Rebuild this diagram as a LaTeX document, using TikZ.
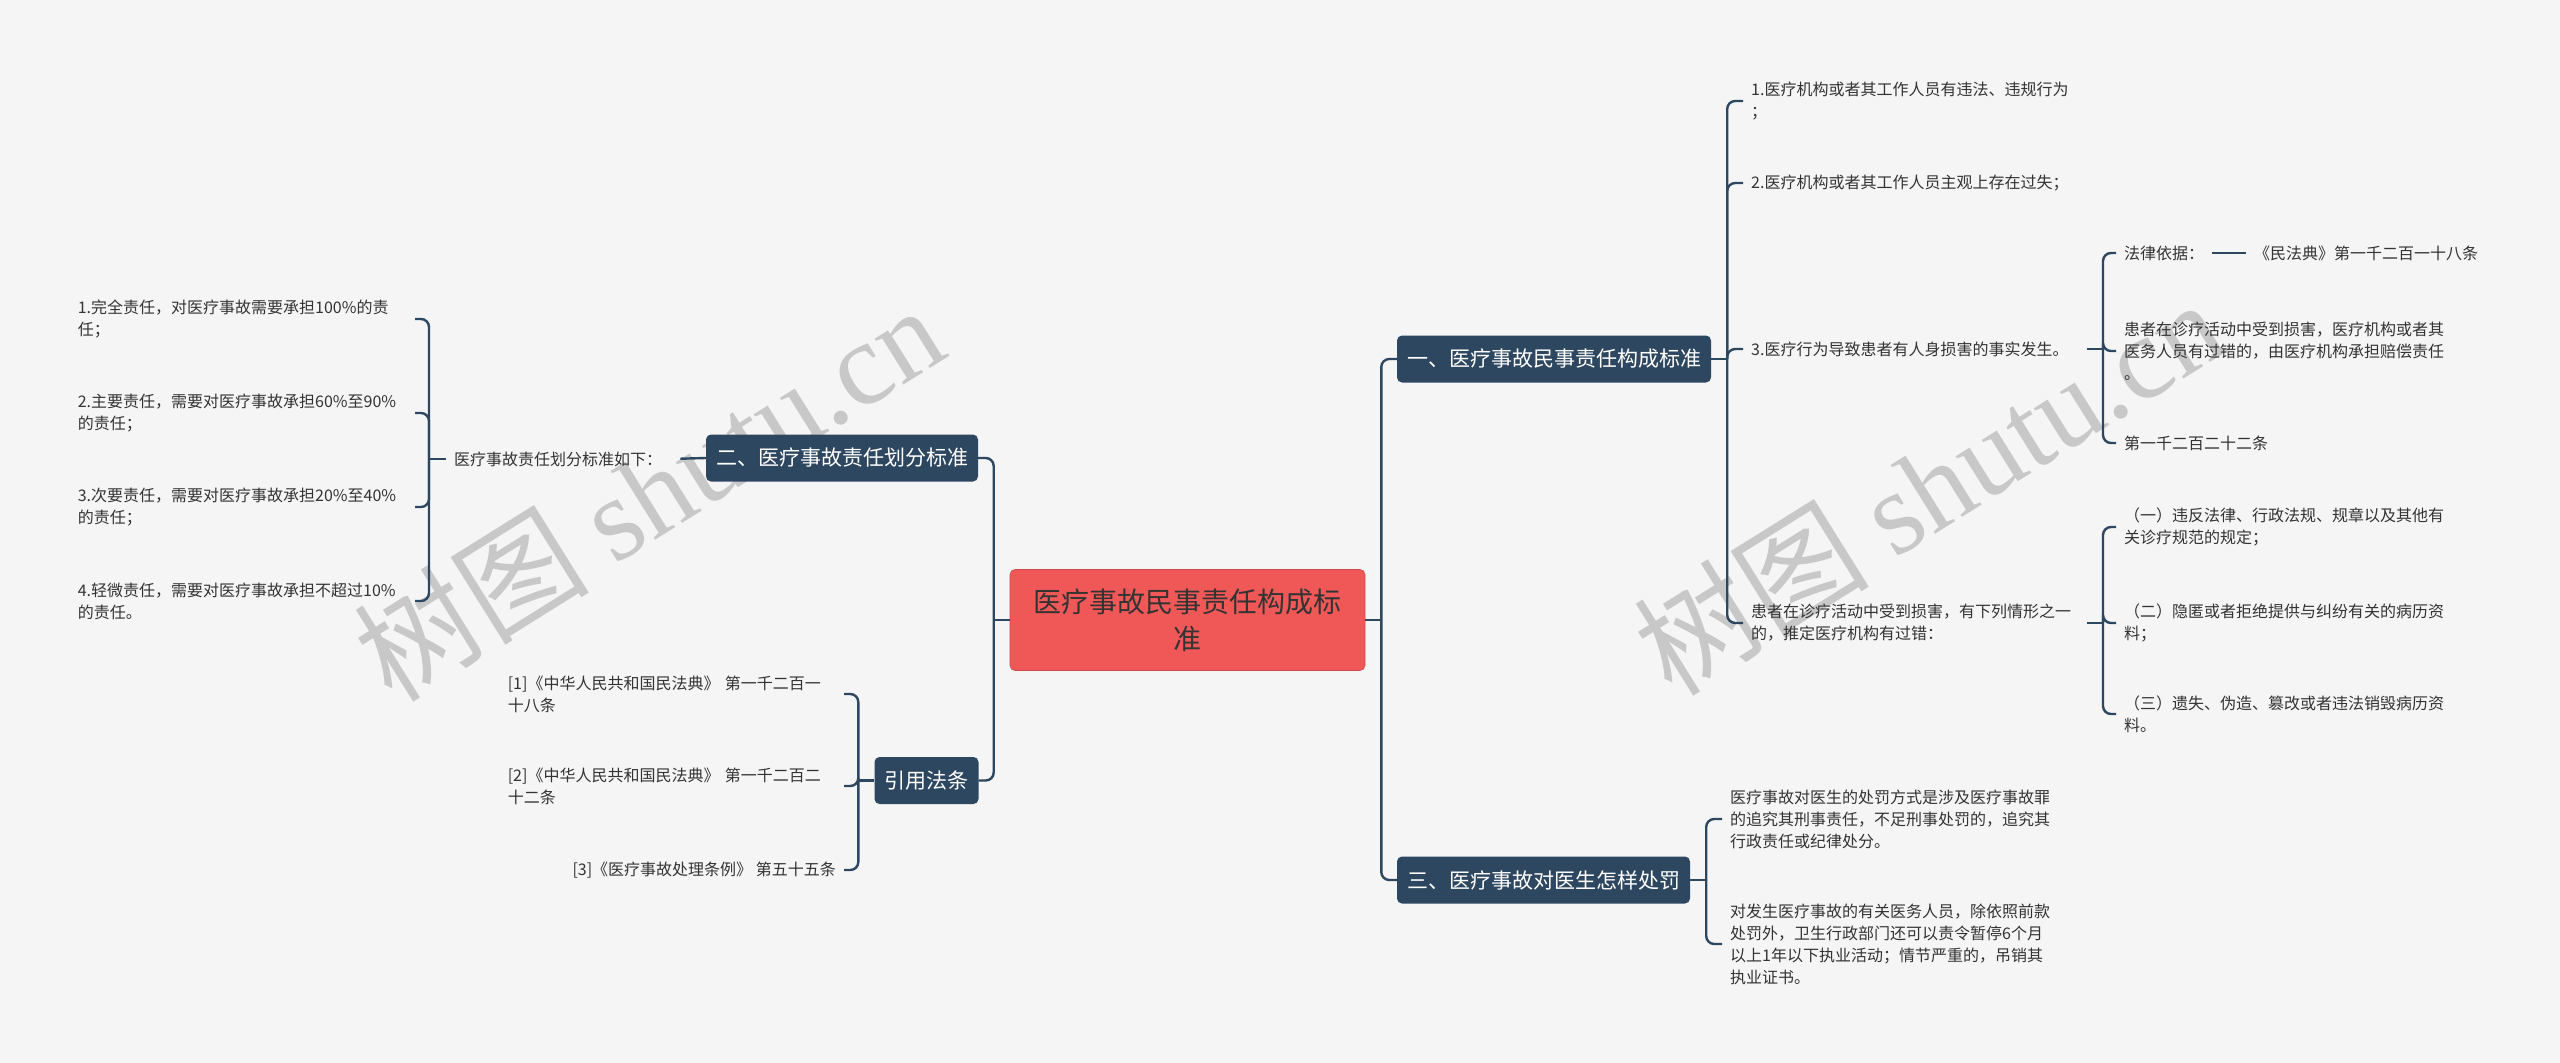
\documentclass[tikz,border=0pt]{standalone}
\usepackage{fontspec}
\setmainfont{Noto Sans CJK SC}
\newfontfamily\wmlatin{Liberation Serif}
\usetikzlibrary{calc}
\definecolor{fond}{HTML}{F5F5F5}
\definecolor{marine}{HTML}{2E4760}
\definecolor{corail}{HTML}{F05858}
\definecolor{encre}{HTML}{333333}
\definecolor{grisfil}{HTML}{BDBDBD}
\tikzset{
    %Define style for the central box
    racine/.style={
           rectangle,
           rounded corners=5pt,
           fill=corail, draw=corail!85!black, line width=0.6pt,
           text=encre,
           font=\fontsize{28}{37}\selectfont,
           align=center,
           minimum width=355pt,
           minimum height=101pt},
    %Define style for the dark boxes
    branche/.style={
           rectangle,
           rounded corners=5pt,
           fill=marine,
           text=white,
           font=\fontsize{21}{26}\selectfont,
           inner xsep=10pt, inner ysep=0pt,
           minimum height=47pt},
    %Define style for plain texts
    feuille/.style={
           font=\fontsize{16}{22}\selectfont,
           text=encre,
           align=left,
           inner xsep=8pt, inner ysep=2pt},
    % Define line styles
    lien/.style={
           draw=marine,
           line width=2.4pt},
    coude/.style={
           lien,
           rounded corners=8pt},
    filigrane/.style={
           text=grisfil,
           opacity=0.8,
           font=\fontsize{118}{118}\selectfont,
           rotate=32}
}
\begin{document}
\begin{tikzpicture}[x=1pt, y=-1pt]
	\fill[fond] (0,0) rectangle (2560,1063);
	\useasboundingbox (0,0) rectangle (2560,1063);
	\node[filigrane] (fil1) at (648,492) {树图 {\wmlatin shutu.cn}};
	\node[filigrane] (fil2) at (1928,486) {树图 {\wmlatin shutu.cn}};
	%
	% noeuds
	%
	\node[racine] (centre) at (1187.5,620) {医疗事故民事责任构成标\\准};
	\node[branche] (b1) at (1554,359) {一、医疗事故民事责任构成标准};
	\node[branche] (b2) at (842,458) {二、医疗事故责任划分标准};
	\node[branche] (b3) at (1543.5,880) {三、医疗事故对医生怎样处罚};
	\node[branche] (b4) at (926.5,780.5) {引用法条};
	% gauche
	\node[feuille, anchor=west] (n21) at (446,459) {医疗事故责任划分标准如下：};
	\node[feuille, anchor=east, text width=329pt] (g1) at (415,319) {1.完全责任，对医疗事故需要承担100\%的责\\任；};
	\node[feuille, anchor=east, text width=329pt] (g2) at (415,413) {2.主要责任，需要对医疗事故承担60\%至90\%\\的责任；};
	\node[feuille, anchor=east, text width=329pt] (g3) at (415,507) {3.次要责任，需要对医疗事故承担20\%至40\%\\的责任；};
	\node[feuille, anchor=east, text width=329pt] (g4) at (415,601) {4.轻微责任，需要对医疗事故承担不超过10\%\\的责任。};
	\node[feuille, anchor=east, text width=328pt] (c1) at (844,694) {[1]《中华人民共和国民法典》 第一千二百一\\十八条};
	\node[feuille, anchor=east, text width=328pt] (c2) at (844,786) {[2]《中华人民共和国民法典》 第一千二百二\\十二条};
	\node[feuille, anchor=east] (c3) at (844,870) {[3]《医疗事故处理条例》 第五十五条};
	% droite
	\node[feuille, anchor=west] (r1) at (1743,101) {1.医疗机构或者其工作人员有违法、违规行为\\；};
	\node[feuille, anchor=west] (r2) at (1743,183) {2.医疗机构或者其工作人员主观上存在过失；};
	\node[feuille, anchor=west] (r3) at (1743,349) {3.医疗行为导致患者有人身损害的事实发生。};
	\node[feuille, anchor=west] (r4) at (1743,623) {患者在诊疗活动中受到损害，有下列情形之一\\的，推定医疗机构有过错：};
	\node[feuille, anchor=west] (s1) at (2116,253) {法律依据：};
	\node[feuille, anchor=west] (s1b) at (2246,253) {《民法典》第一千二百一十八条};
	\node[feuille, anchor=west] (s2) at (2116,351) {患者在诊疗活动中受到损害，医疗机构或者其\\医务人员有过错的，由医疗机构承担赔偿责任\\。};
	\node[feuille, anchor=west] (s3) at (2116,443) {第一千二百二十二条};
	\node[feuille, anchor=west] (t1) at (2116,527) {（一）违反法律、行政法规、规章以及其他有\\关诊疗规范的规定；};
	\node[feuille, anchor=west] (t2) at (2116,623) {（二）隐匿或者拒绝提供与纠纷有关的病历资\\料；};
	\node[feuille, anchor=west] (t3) at (2116,714) {（三）遗失、伪造、篡改或者违法销毁病历资\\料。};
	\node[feuille, anchor=west] (u1) at (1722,819) {医疗事故对医生的处罚方式是涉及医疗事故罪\\的追究其刑事责任，不足刑事处罚的，追究其\\行政责任或纪律处分。};
	\node[feuille, anchor=west] (u2) at (1722,944) {对发生医疗事故的有关医务人员，除依照前款\\处罚外，卫生行政部门还可以责令暂停6个月\\以上1年以下执业活动；情节严重的，吊销其\\执业证书。};
	%
	% Liens
	%
	\coordinate (jg) at ($(centre.west)+(-16,0)$);
	\coordinate (jd) at ($(centre.east)+(16,0)$);
	\draw[lien] (centre.west) -- (jg);
	\draw[lien] (centre.east) -- (jd);
	\foreach \b in {b2,b4} \draw[coude] (jg) |- (\b.east);
	\foreach \b in {b1,b3} \draw[coude] (jd) |- (\b.west);
	% gauche
	\draw[lien, shorten >=10pt] (b2.west) -- (n21.east);
	\coordinate (j2) at ($(n21.west)+(-17,0)$);
	\draw[lien] (n21.west) -- (j2);
	\foreach \f in {g1,g2,g3,g4} \draw[coude] (j2) |- (\f.east);
	\coordinate (j4) at ($(b4.west)+(-16,0)$);
	\draw[lien] (b4.west) -- (j4);
	\foreach \f in {c1,c2,c3} \draw[coude] (j4) |- (\f.east);
	% droite
	\coordinate (j1) at ($(b1.east)+(16,0)$);
	\draw[lien] (b1.east) -- (j1);
	\foreach \f in {r1,r2,r3,r4} \draw[coude] (j1) |- (\f.west);
	\coordinate (j3) at (2103,349);
	\draw[lien, shorten <=10pt] (r3.east) -- (j3);
	\foreach \f in {s1,s2,s3} \draw[coude] (j3) |- (\f.west);
	\draw[lien] (s1.east) -- (s1b.west);
	\coordinate (j6) at (2103,623);
	\draw[lien, shorten <=8pt] (r4.east) -- (j6);
	\foreach \f in {t1,t2,t3} \draw[coude] (j6) |- (\f.west);
	\coordinate (j5) at ($(b3.east)+(16,0)$);
	\draw[lien] (b3.east) -- (j5);
	\foreach \f in {u1,u2} \draw[coude] (j5) |- (\f.west);
\end{tikzpicture}
\end{document}
